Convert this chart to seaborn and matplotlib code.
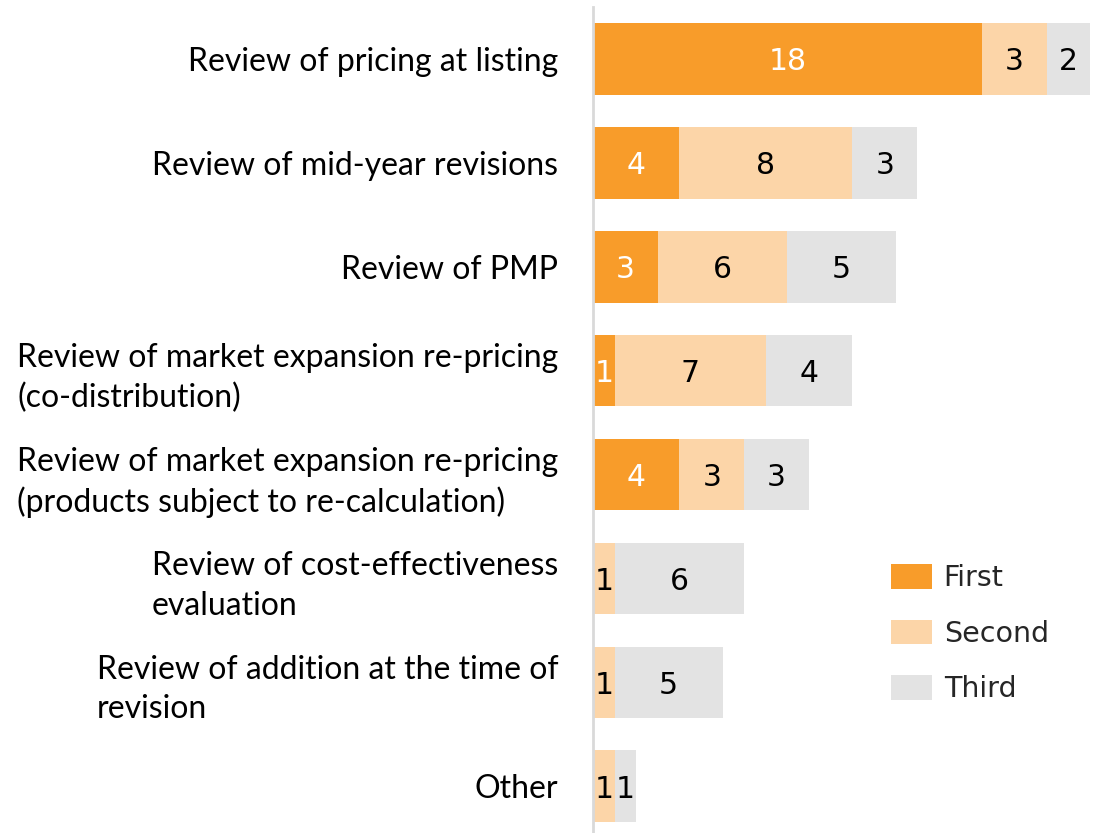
import matplotlib
matplotlib.use("Agg")
import matplotlib.pyplot as plt
import seaborn as sns
import pandas as pd
from matplotlib.patches import Patch

categories = [
    "Review of pricing at listing",
    "Review of mid-year revisions",
    "Review of PMP",
    "Review of market expansion re-pricing\n(co-distribution)",
    "Review of market expansion re-pricing\n(products subject to re-calculation)",
    "Review of cost-effectiveness\nevaluation",
    "Review of addition at the time of\nrevision",
    "Other",
]
first = [18, 4, 3, 1, 4, 0, 0, 0]
second = [3, 8, 6, 7, 3, 1, 1, 1]
third = [2, 3, 5, 4, 3, 6, 5, 1]
series_names = ["First", "Second", "Third"]
colors = ["#F89C2A", "#FCD5A8", "#E3E3E3"]
text_colors = ["white", "black", "black"]

sns.set_theme(style="white")
plt.rcParams["font.family"] = ["DejaVu Sans"]

df = pd.DataFrame({"category": categories, "First": first, "Second": second, "Third": third})
df["c1"] = df["First"]
df["c2"] = df["First"] + df["Second"]
df["c3"] = df["c2"] + df["Third"]

fig = plt.figure(figsize=(11.01, 8.33), dpi=100)
ax = fig.add_axes([593 / 1101, 0.0, (1090 - 593) / 1101, (833 - 7) / 833])

for col, color in zip(["c3", "c2", "c1"], colors[::-1]):
    sns.barplot(data=df, x=col, y="category", orient="h", color=color,
                width=0.69, saturation=1, ax=ax, linewidth=0, order=categories)

# value labels
for i, cat in enumerate(categories):
    left = 0
    for vals, tc in zip([first, second, third], text_colors):
        v = vals[i]
        if v > 0:
            ax.text(left + v / 2, i, str(v), ha="center", va="center_baseline",
                    color=tc, fontsize=21.5, family="DejaVu Sans")
        left += v

ax.set_xlim(0, 23)
ax.set_ylim(7.45, -0.5)
ax.set_xlabel("")
ax.set_ylabel("")
ax.set_xticks([])
for s in ["top", "right", "bottom"]:
    ax.spines[s].set_visible(False)
ax.spines["left"].set_color("#D9D9D9")
ax.spines["left"].set_linewidth(2)
ax.tick_params(axis="y", length=0, pad=25)
for lab in ax.get_yticklabels():
    lab.set_family("Lato")
    lab.set_fontsize(23)
    lab.set_multialignment("left")
    lab.set_linespacing(1.38)
    lab.set_color("black")

handles = [Patch(facecolor=c, edgecolor="none", label=n) for c, n in zip(colors, series_names)]
fig.legend(handles=handles, loc="upper left", bbox_to_anchor=(891 / 1101, 1 - 564 / 833),
           frameon=False, fontsize=20.5, handlelength=1.45, handleheight=0.95,
           labelspacing=0.97, handletextpad=0.4, borderpad=0, borderaxespad=0)

fig.savefig("out.png", dpi=100)
